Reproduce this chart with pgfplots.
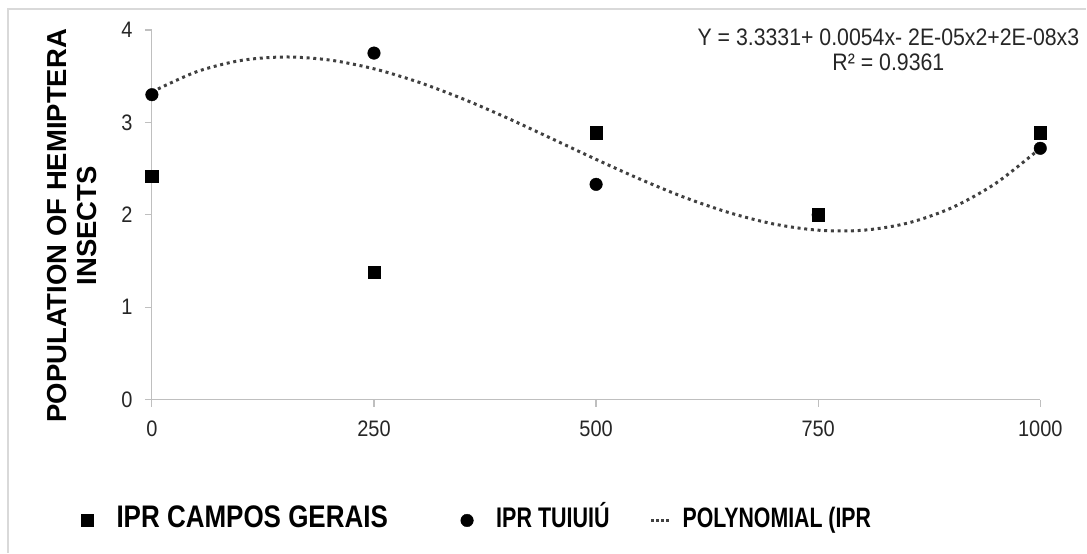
\documentclass[border=0pt]{standalone}
\usepackage{pgfplots}
\pgfplotsset{compat=1.18}
\usepackage{fontspec}
\setmainfont{Liberation Sans}
\usepackage{graphicx}
\newcommand\st[1]{\scalebox{1}[1.12]{#1}}
\newcommand\stt[1]{\scalebox{1}[1.2]{#1}}
\newcommand\sttt[1]{\scalebox{1}[1.32]{#1}}

\pgfplotsset{
  markleg/.style={legend image code/.code={\path (-7pt,0pt) (29pt,0pt); \draw[##1] plot coordinates {(0pt,7pt)};}},
  lineleg/.style={legend image code/.code={\path (0pt,0pt) (30pt,0pt); \draw[##1, line width=2.5pt, dash pattern=on 2.5pt off 2.5pt] (0pt,7pt) -- (19pt,7pt);}},
}

\pgfplotstableread{
x y
0 2.42
250 1.38
500 2.89
750 2.00
1000 2.89
}\campos

\pgfplotstableread{
x y
0 3.30
250 3.75
500 2.33
750 2.00
1000 2.72
}\tuiuiu

\pgfplotstableread{
x y
0 3.330
50 3.547
100 3.670
150 3.708
200 3.675
250 3.580
300 3.436
350 3.255
400 3.048
450 2.825
500 2.600
550 2.384
600 2.187
650 2.023
700 1.901
750 1.834
800 1.833
850 1.909
900 2.075
950 2.342
1000 2.720
}\poly

\begin{document}
\begin{tikzpicture}[x=1pt,y=1pt]
\path (0,0) rectangle (1087,553);
\draw[gray!30, line width=1.5pt] (8,0) -- (8,544) -- (1087,544);
\begin{axis}[
  at={(152pt,153pt)}, anchor=south west,
  scale only axis, width=889pt, height=370pt,
  xmin=0, xmax=1000, ymin=0, ymax=4,
  axis x line=bottom, axis y line=left,
  axis line style={-, gray!50, line width=1.2pt},
  xtick={0,250,500,750,1000}, ytick={0,1,2,3,4},
  tick style={gray!50, line width=1.2pt},
  tick align=outside, major tick length=7pt,
  /pgf/number format/1000 sep={},
  /pgf/number format/assume math mode=true,
  ticklabel style={font=\fontsize{20}{24}\selectfont, text=black!85},
  xticklabel style={yshift=-11pt},
  yticklabel style={xshift=-9pt},
  xticklabel={\st{\pgfmathprintnumber{\tick}}},
  yticklabel={\st{\pgfmathprintnumber{\tick}}},
  clip=false,
  legend columns=3,
  legend style={at={(-0.081,-0.3135)}, anchor=west, draw=none, fill=none,
    inner sep=0pt, nodes={inner sep=0pt, anchor=base west},
    /tikz/column sep=0pt,
    /tikz/column 2/.style={column sep=72pt},
    /tikz/column 4/.style={column sep=40pt},
    font=\bfseries},
]
\addplot[only marks, mark=square*, mark size=6.2pt, black, markleg]
  table[x=x,y=y] {\campos};
\addlegendentry{\fontsize{26}{30}\selectfont\stt{IPR CAMPOS GERAIS}}
\addplot[only marks, mark=*, mark size=6.3pt, black, markleg]
  table[x=x,y=y] {\tuiuiu};
\addlegendentry{\fontsize{21.5}{25}\selectfont\sttt{IPR TUIUIÚ}}
\addplot[smooth, black!75, line width=3pt, dash pattern=on 3pt off 3.7pt, lineleg]
  table[x=x,y=y] {\poly};
\addlegendentry{\fontsize{21.3}{25}\selectfont\sttt{POLYNOMIAL (IPR}}
\end{axis}
\node[rotate=90, align=center, font=\fontsize{27.5}{30}\selectfont\bfseries] at (72,327)
  {POPULATION OF HEMIPTERA\\INSECTS};
\node[align=center, font=\fontsize{21.3}{25}\selectfont, text=black!85] at (889,503)
  {\st{Y = 3.3331+ 0.0054x- 2E-05x2+2E-08x3}\\\st{R² = 0.9361}};
\end{tikzpicture}
\end{document}
